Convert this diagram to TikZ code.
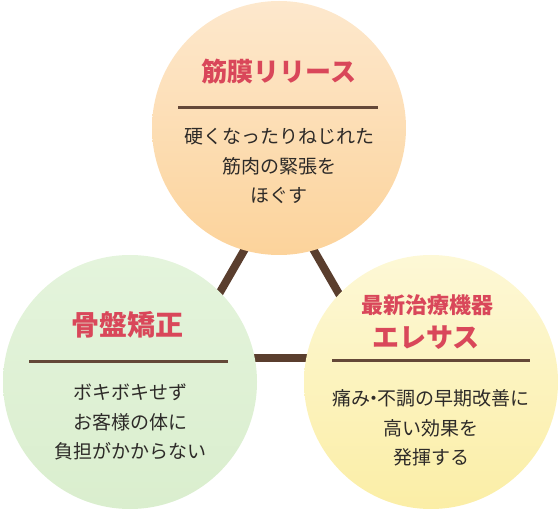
\documentclass[tikz,border=0pt]{standalone}
\usepackage{fontspec}
\setmainfont{Noto Sans CJK JP}
\usepackage{xcolor}
\definecolor{peachtop}{RGB}{253,232,205}
\definecolor{peachbot}{RGB}{252,211,155}
\definecolor{greentop}{RGB}{228,244,220}
\definecolor{greenbot}{RGB}{218,238,206}
\definecolor{lemontop}{RGB}{253,248,214}
\definecolor{lemonbot}{RGB}{251,238,166}
\definecolor{linkbrown}{RGB}{90,62,46}
\definecolor{rulebrown}{RGB}{100,72,56}
\definecolor{titlered}{RGB}{217,71,90}
\definecolor{bodygray}{RGB}{45,42,40}
\usepackage{tikz}
\usetikzlibrary{
    positioning,
    backgrounds
}
\tikzset{
    ball/.style       = {circle, draw=none, inner sep=0pt, minimum size=254pt},
    balltitle/.style  = {font=\bfseries\fontsize{27}{31}\selectfont, text=titlered,
                         inner sep=0pt, align=center},
    ballsub/.style    = {font=\bfseries\fontsize{22}{26}\selectfont, text=titlered,
                         inner sep=0pt},
    balltext/.style   = {font=\fontsize{19}{29.5}\selectfont, text=bodygray,
                         inner sep=0pt, align=center},
    titlerule/.style  = {draw=rulebrown, line width=3pt},
    linkbar/.style    = {draw=linkbrown, line width=8pt}
}
\newcommand{\ndot}{\kern-0.3em・\kern-0.3em}

\begin{document}
\begin{tikzpicture}[x=1pt, y=-1pt]
\useasboundingbox (0,0) rectangle (559,510);

% ===== Three circles =====
\node[ball, top color=peachtop, bottom color=peachbot] (fascia) at (279,128) {};
\node[ball, top color=greentop, bottom color=greenbot] (pelvis) at (130,382) {};
\node[ball, top color=lemontop, bottom color=lemonbot] (device) at (431,382) {};

% ===== Triangle behind the circles =====
\coordinate (apex)  at (279,190);
\coordinate (lbase) at (182,358);
\coordinate (rbase) at (376,358);
\begin{pgfonlayer}{background}
\draw[linkbar] (apex) -- (lbase);
\draw[linkbar] (apex) -- (rbase);
\draw[linkbar] (lbase) -- (rbase);
\end{pgfonlayer}

% ===== Top: fascia release =====
\node[balltitle, font=\bfseries\fontsize{26}{30}\selectfont] (fasciaT) at (279,72) {筋膜リリース};
\coordinate (fr1) at (178,108);
\coordinate (fr2) at (378,108);
\draw[titlerule] (fr1) -- (fr2);
\node[balltext] (fasciaB) at (279,166)
   {硬くなったりねじれた\\筋肉の緊張を\\ほぐす};

% ===== Left: pelvis correction =====
\node[balltitle, font=\bfseries\fontsize{28}{32}\selectfont] (pelvisT) at (127,325) {骨盤矯正};
\coordinate (pr1) at (29,361);
\coordinate (pr2) at (228,361);
\draw[titlerule] (pr1) -- (pr2);
\node[balltext] (pelvisB) at (130,422)
   {ボキボキせず\\お客様の体に\\負担がかからない};

% ===== Right: treatment device =====
\node[ballsub] (deviceS) at (427,305) {最新治療機器};
\node[balltitle] (deviceT) at (426,338) {エレサス};
\coordinate (dr1) at (332,360);
\coordinate (dr2) at (530,360);
\draw[titlerule] (dr1) -- (dr2);
\node[balltext] (deviceB) at (431,428)
   {痛み\ndot 不調の早期改善に\\高い効果を\\発揮する};

\end{tikzpicture}
\end{document}
